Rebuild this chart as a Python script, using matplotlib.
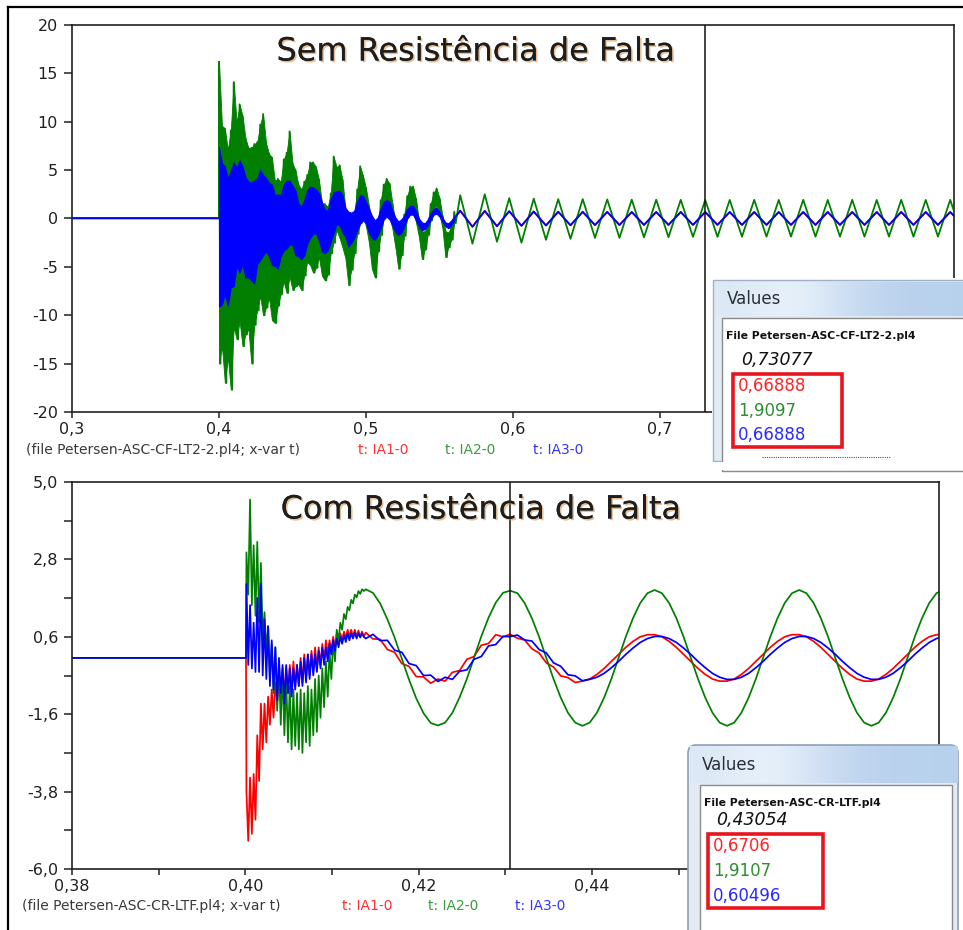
import numpy as np
import matplotlib
matplotlib.use("Agg")
import matplotlib.pyplot as plt
import matplotlib.patheffects as pe
from matplotlib.patches import Rectangle, FancyBboxPatch

plt.rcParams["font.family"] = ["DejaVu Sans"]

PERIOD = 1 / 60  # 60 Hz system

# ---------------------------------------------------------------------------
# Upper plot: "Sem Resistência de Falta" (file Petersen-ASC-CF-LT2-2.pl4)
# ---------------------------------------------------------------------------
top_xlim = (0.3, 0.9)
# the 0,8 label sits under the "Values" window in the screenshot
top_xticks = [0.3, 0.4, 0.5, 0.6, 0.7]
top_xticklabels = ["0,3", "0,4", "0,5", "0,6", "0,7"]
top_yticks = [20, 15, 10, 5, 0, -5, -10, -15, -20]
top_yticklabels = ["20", "15", "10", "5", "0", "-5", "-10", "-15", "-20"]

top_fault_t = 0.400
top_env_step = 0.002  # envelope read every 2 ms during the transient

# IA2-0 (green) max / min inside each 2 ms slot, 0.400 .. 0.560 s
top_green_hi = [16.2, 9.6, 9.3, 7.1, 9.1, 14.1, 9.9, 11.8, 10.6, 8.3,
                7.3, 7.3, 7.7, 7.9, 9.7, 10.8, 7.8, 6.7, 6.3, 3.9,
                4.1, 3.8, 6.1, 6.8, 9.0, 5.7, 5.0, 3.5, 3.0, 3.8,
                4.5, 5.8, 5.8, 5.3, 4.0, 1.6, 1.5, 1.2, 2.6, 6.4,
                5.3, 5.5, 4.0, 1.0, -0.2, -0.3, 0.5, 3.0, 5.4, 4.4,
                3.1, 1.3, -0.3, -1.4, -0.6, 1.9, 3.5, 4.1, 3.6, 1.5,
                -0.4, -1.4, -0.8, 0.4, 2.3, 3.3, 3.3, 2.0, -0.2, -1.3,
                -1.4, -0.4, 1.5, 2.7, 3.1, 2.1, 0.3, -1.3, -1.5, -0.8, 0.7]
top_green_lo = [-15.0, -13.2, -17.0, -14.3, -17.7, -11.2, -12.5, -10.6, -13.2, -12.0,
                -11.4, -15.0, -11.0, -9.5, -8.0, -10.0, -9.2, -8.2, -10.5, -10.8,
                -9.0, -7.8, -6.5, -7.7, -6.0, -7.4, -7.0, -6.8, -7.4, -5.9,
                -4.5, -4.8, -5.6, -5.1, -4.0, -5.9, -6.4, -5.8, -3.6, -2.5,
                -1.2, -2.0, -3.0, -4.1, -6.9, -5.3, -3.6, -1.6, -0.5, 0.2,
                -0.8, -2.5, -5.2, -6.1, -3.4, -1.7, 0.0, 0.9, 0.2, -1.1,
                -3.0, -5.2, -3.8, -1.8, 0.1, 1.1, 1.0, -0.4, -1.9, -4.2,
                -3.2, -1.7, -0.2, 1.0, 1.3, 0.4, -1.0, -4.0, -3.0, -2.2, -0.5]

# IA3-0 (blue) band, same slots
top_blue_hi = [7.4, 5.7, 5.4, 4.1, 4.9, 5.8, 5.2, 6.0, 5.4, 4.3,
               3.8, 3.7, 3.9, 4.1, 5.0, 4.5, 4.2, 3.7, 3.5, 2.4,
               2.5, 2.4, 3.5, 3.9, 3.9, 3.4, 2.9, 1.6, 1.2, 1.9,
               2.9, 3.3, 3.2, 3.0, 2.6, 1.7, 0.9, 0.8, 2.0, 2.7,
               2.8, 2.9, 2.4, 1.1, 0.7, 0.6, 0.8, 1.8, 2.4, 2.3,
               1.7, 1.0, 0.3, -0.2, 0.1, 1.0, 1.7, 1.9, 1.7, 0.8,
               0.1, -0.3, -0.1, 0.3, 1.0, 1.3, 1.3, 0.8, 0.0, -0.4,
               -0.5, -0.1, 0.5, 1.0, 1.1, 0.7, 0.1, -0.4, -0.5, -0.2, 0.2]
top_blue_lo = [-9.1, -8.9, -7.8, -9.0, -7.1, -7.0, -4.9, -5.6, -4.7, -6.1,
               -6.1, -6.4, -6.7, -4.7, -4.3, -3.8, -3.4, -3.9, -4.8, -4.9,
               -5.2, -3.9, -3.3, -3.1, -2.7, -2.7, -3.8, -3.9, -4.2, -3.8,
               -2.6, -2.0, -1.6, -1.5, -2.3, -3.4, -3.6, -3.3, -2.4, -1.5,
               -0.6, -0.7, -1.4, -1.9, -2.9, -2.5, -2.0, -1.2, -0.5, -0.2,
               -0.5, -1.5, -2.0, -2.2, -1.7, -1.0, -0.1, 0.2, -0.1, -0.7,
               -1.4, -1.7, -1.5, -0.8, 0.0, 0.4, 0.4, -0.2, -0.8, -1.2,
               -1.1, -0.7, -0.1, 0.4, 0.5, 0.2, -0.3, -0.8, -1.0, -0.7, -0.2]

# steady 60 Hz part: one peak and one trough per cycle, first peak at 0.5641 s
top_first_peak = 0.5641
top_green_peaks = [2.4, 2.5, 2.1, 2.05, 2.0, 2.0, 1.97, 1.95, 1.94, 1.93, 1.92,
                   1.92, 1.93, 1.92, 1.93, 1.92, 1.93, 1.92, 1.93, 1.92, 1.93]
top_green_troughs = [-2.6, -2.4, -2.5, -2.2, -2.1, -2.0, -2.0, -1.95, -1.93, -1.9, -1.9,
                     -1.88, -1.88, -1.87, -1.88, -1.87, -1.88, -1.87, -1.88, -1.87, -1.88]
top_blue_peaks = [0.8, 0.78, 0.75, 0.72, 0.7, 0.69, 0.68, 0.67, 0.67, 0.67, 0.67,
                  0.67, 0.67, 0.67, 0.67, 0.67, 0.67, 0.67, 0.67, 0.67, 0.67]
top_blue_troughs = [-0.85, -0.8, -0.75, -0.72, -0.7, -0.68, -0.67, -0.66, -0.66, -0.66, -0.66,
                    -0.66, -0.66, -0.66, -0.66, -0.66, -0.66, -0.66, -0.66, -0.66, -0.66]
top_red_peaks = top_blue_peaks  # IA1-0 equals IA3-0 here (0,66888 both)
top_red_troughs = top_blue_troughs

top_cursor = 0.73077
top_values = ["0,73077", "0,66888", "1,9097", "0,66888"]

# ---------------------------------------------------------------------------
# Lower plot: "Com Resistência de Falta" (file Petersen-ASC-CR-LTF.pl4)
# ---------------------------------------------------------------------------
bot_xlim = (0.38, 0.48)
# the 0,46 label sits under the "Values" window in the screenshot
bot_xticks = [0.38, 0.40, 0.42, 0.44]
bot_xticklabels = ["0,38", "0,40", "0,42", "0,44"]
bot_xminor = [0.39, 0.41, 0.43, 0.45]
bot_yticks = [5.0, 2.8, 0.6, -1.6, -3.8, -6.0]
bot_yticklabels = ["5,0", "2,8", "0,6", "-1,6", "-3,8", "-6,0"]
bot_yminor = [3.9, 1.7, -0.5, -2.7, -4.9]

bot_fault_t = 0.40012
bot_tr_step = PERIOD / 80  # transient read about every 0.21 ms

bot_red_tr = [-3.8, -5.2, -3.4, -5.0, -3.3, -4.6, -2.2, -3.5, -1.3, -2.6,
              -1.3, -2.4, -1.1, -1.9, -0.9, -1.7, -0.7, -1.3, -0.6, -1.2,
              -0.4, -1.0, -0.3, -1.0, -0.2, -0.9, -0.1, -0.8, -0.2, -0.8,
              0.0, -0.7, 0.1, -0.6, 0.1, -0.5, 0.2, -0.4, 0.3, -0.3,
              0.3, -0.2, 0.4, -0.1, 0.5, 0.1, 0.5, 0.2, 0.6, 0.3,
              0.7, 0.4, 0.7, 0.5, 0.75, 0.55, 0.8, 0.6, 0.8, 0.6,
              0.8, 0.6, 0.78, 0.6, 0.75, 0.6]
bot_green_tr = [3.0, 1.8, 4.5, 1.5, 3.2, 1.2, 3.3, 1.0, 2.7, 0.5,
                1.3, 0.2, 0.9, -0.6, 0.4, -1.0, 0.3, -1.5, -0.1, -1.9,
                -0.3, -2.2, -0.6, -2.4, -0.8, -2.6, -0.9, -2.5, -1.0, -2.6,
                -0.9, -2.7, -1.0, -2.4, -0.8, -2.5, -0.9, -2.2, -0.6, -2.1,
                -0.5, -1.7, -0.3, -1.4, -0.1, -1.1, 0.2, -0.6, 0.5, -0.1,
                0.8, 0.5, 1.0, 0.8, 1.25, 1.1, 1.45, 1.35, 1.65, 1.55,
                1.8, 1.72, 1.9, 1.82, 1.95, 1.9]
bot_blue_tr = [2.1, -0.2, 1.5, -0.3, 1.0, -0.4, 1.7, -0.4, 2.1, -0.5,
               1.1, -0.6, 0.9, -0.8, 0.5, -0.9, 0.3, -1.2, 0.0, -1.0,
               -0.2, -1.3, -0.2, -1.0, -0.3, -1.1, -0.3, -0.9, -0.2, -0.8,
               -0.1, -0.8, 0.0, -0.7, 0.1, -0.6, 0.1, -0.5, 0.1, -0.4,
               0.2, -0.3, 0.3, -0.2, 0.3, -0.1, 0.4, 0.1, 0.5, 0.2,
               0.55, 0.3, 0.6, 0.4, 0.65, 0.45, 0.7, 0.5, 0.7, 0.55,
               0.72, 0.55, 0.7, 0.58, 0.7, 0.6]

# steady part read every 1/20 cycle, starting one cycle before the cursor
bot_cursor = 0.43054
bot_st_start = bot_cursor - PERIOD
bot_st_step = PERIOD / 20
bot_red_st = [0.72, 0.54, 0.53, 0.24, 0.16, -0.16, -0.24, -0.53, -0.54, -0.72,
              -0.60, -0.66, -0.41, -0.36, -0.04, 0.04, 0.36, 0.41, 0.66, 0.60,
              0.671, 0.56, 0.51, 0.26, 0.14, -0.14, -0.26, -0.51, -0.56, -0.70,
              -0.66, -0.60, -0.47, -0.30, -0.10, 0.10, 0.30, 0.47, 0.60, 0.66,
              0.66, 0.60, 0.47, 0.30, 0.10, -0.10, -0.30, -0.47, -0.60, -0.66,
              -0.66, -0.60, -0.47, -0.30, -0.10, 0.10, 0.30, 0.47, 0.60, 0.66,
              0.66, 0.60, 0.47, 0.30, 0.10, -0.10, -0.30, -0.47, -0.60, -0.66,
              -0.66, -0.60, -0.47, -0.30, -0.10, 0.10, 0.30, 0.47, 0.60, 0.66,
              0.66]
bot_green_st = [1.95, 1.85, 1.55, 1.10, 0.58, -0.02, -0.62, -1.15, -1.57, -1.85,
                -1.92, -1.84, -1.56, -1.12, -0.60, 0.01, 0.61, 1.14, 1.57, 1.85,
                1.911, 1.84, 1.56, 1.13, 0.60, 0.0, -0.60, -1.13, -1.56, -1.84,
                -1.93, -1.84, -1.56, -1.13, -0.60, 0.0, 0.60, 1.13, 1.56, 1.84,
                1.93, 1.84, 1.56, 1.13, 0.60, 0.0, -0.60, -1.13, -1.56, -1.84,
                -1.93, -1.84, -1.56, -1.13, -0.60, 0.0, 0.60, 1.13, 1.56, 1.84,
                1.93, 1.84, 1.56, 1.13, 0.60, 0.0, -0.60, -1.13, -1.56, -1.84,
                -1.93, -1.84, -1.56, -1.13, -0.60, 0.0, 0.60, 1.13, 1.56, 1.84,
                1.93]
bot_blue_st = [0.55, 0.67, 0.49, 0.50, 0.22, 0.16, -0.16, -0.22, -0.50, -0.49,
               -0.67, -0.55, -0.61, -0.38, -0.34, -0.04, 0.04, 0.34, 0.38, 0.61,
               0.605, 0.65, 0.51, 0.48, 0.24, 0.14, -0.14, -0.24, -0.48, -0.51,
               -0.65, -0.61, -0.55, -0.44, -0.28, -0.10, 0.10, 0.28, 0.44, 0.55,
               0.61, 0.61, 0.55, 0.44, 0.28, 0.10, -0.10, -0.28, -0.44, -0.55,
               -0.61, -0.61, -0.55, -0.44, -0.28, -0.10, 0.10, 0.28, 0.44, 0.55,
               0.61, 0.61, 0.55, 0.44, 0.28, 0.10, -0.10, -0.28, -0.44, -0.55,
               -0.61, -0.61, -0.55, -0.44, -0.28, -0.10, 0.10, 0.28, 0.44, 0.55,
               0.61]
bot_values = ["0,43054", "0,6706", "1,9107", "0,60496"]

RED, GREEN, BLUE = "#ff0000", "#007f00", "#0000ff"
TXT = "#1e1e1e"


def steady_line(first_peak, peaks, troughs):
    """Peak/trough points of the steady 60 Hz part, in time order."""
    t_pk = first_peak + np.arange(len(peaks)) * PERIOD
    t = np.column_stack([t_pk, t_pk + PERIOD / 2]).ravel()
    v = np.column_stack([peaks, troughs]).ravel()
    return t, v


def style_axes(ax, xlim, ylim, xticks, xlabels, yticks, ylabels):
    ax.set_xlim(*xlim)
    ax.set_ylim(*ylim)
    ax.set_xticks(xticks, xlabels)
    ax.set_yticks(yticks, ylabels)
    for s in ax.spines.values():
        s.set_linewidth(1.2)
        s.set_color("#202020")
    ax.tick_params(axis="y", which="both", direction="out", length=6,
                   width=1.1, pad=4, labelsize=11.5, colors="#202020")
    ax.tick_params(axis="x", which="both", direction="out", length=4,
                   width=1.1, pad=3, labelsize=11.5, colors="#202020")


fig = plt.figure(figsize=(9.63, 9.30), dpi=100)
W, H = 963, 930

# ---------------- upper plot ----------------
ax1 = fig.add_axes([72 / W, 1 - 412 / H, 882 / W, 387 / H])
style_axes(ax1, top_xlim, (-20, 20), top_xticks, top_xticklabels,
           top_yticks, top_yticklabels)

t_env = top_fault_t + np.arange(len(top_green_hi)) * top_env_step
zig_t = np.column_stack([t_env, t_env + top_env_step / 2]).ravel()
zig_v = np.column_stack([top_green_hi, top_green_lo]).ravel()
g_st_t, g_st_v = steady_line(top_first_peak, top_green_peaks, top_green_troughs)
b_st_t, b_st_v = steady_line(top_first_peak, top_blue_peaks, top_blue_troughs)
r_st_t, r_st_v = steady_line(top_first_peak, top_red_peaks, top_red_troughs)

blue_mid_end = (top_blue_hi[-1] + top_blue_lo[-1]) / 2
ax1.plot(np.r_[t_env[-1], r_st_t], np.r_[blue_mid_end, r_st_v], color=RED, lw=1.3, zorder=2)
# green: dense band plus the individual spikes
ax1.fill_between(t_env, top_green_lo, top_green_hi, color=GREEN, lw=0.6, zorder=3)
ax1.plot(np.r_[top_xlim[0], top_fault_t, zig_t, g_st_t],
         np.r_[0, 0, zig_v, g_st_v], color=GREEN, lw=1.3, zorder=3)
# blue band on top
ax1.fill_between(t_env, top_blue_lo, top_blue_hi, color=BLUE, lw=0.8, zorder=4)
ax1.plot(np.r_[top_xlim[0], top_fault_t], [0, 0], color=BLUE, lw=1.3, zorder=4)
ax1.plot(np.r_[t_env[-1], b_st_t], np.r_[blue_mid_end, b_st_v], color=BLUE, lw=1.3, zorder=4)
ax1.axvline(top_cursor, color="#111111", lw=1.1, zorder=5)

# ---------------- lower plot ----------------
ax2 = fig.add_axes([72 / W, 1 - 869 / H, 867 / W, 387 / H])
style_axes(ax2, bot_xlim, (-6.0, 5.0), bot_xticks, bot_xticklabels,
           bot_yticks, bot_yticklabels)
ax2.set_xticks(bot_xminor, minor=True)
ax2.set_yticks(bot_yminor, minor=True)

t_tr = bot_fault_t + np.arange(len(bot_red_tr)) * bot_tr_step
t_st = bot_st_start + np.arange(len(bot_red_st)) * bot_st_step
for tr, st, col in [(bot_red_tr, bot_red_st, RED),
                    (bot_green_tr, bot_green_st, GREEN),
                    (bot_blue_tr, bot_blue_st, BLUE)]:
    ax2.plot(np.r_[bot_xlim[0], bot_fault_t - 0.00005, t_tr, t_st],
             np.r_[0, 0, tr, st], color=col, lw=1.25)
ax2.axvline(bot_cursor, color="#111111", lw=1.1)

# ---------------- overlay: titles, captions, "Values" windows ----------------
ov = fig.add_axes([0, 0, 1, 1], zorder=10)
ov.set_xlim(0, W)
ov.set_ylim(H, 0)
ov.axis("off")

shadow = [pe.withSimplePatchShadow(offset=(1.2, -1.2), shadow_rgbFace="#d08a40", alpha=0.55),
          pe.Normal()]
ov.text(476, 52, "Sem Resistência de Falta", fontsize=23, color=TXT,
        ha="center", va="center", path_effects=shadow)
ov.text(481, 510, "Com Resistência de Falta", fontsize=23, color=TXT,
        ha="center", va="center", path_effects=shadow)

captions = [
    (26, 450, "(file Petersen-ASC-CF-LT2-2.pl4; x-var t)", (358, 445, 533)),
    (22, 906, "(file Petersen-ASC-CR-LTF.pl4; x-var t)", (342, 428, 515)),
]
for x0, y0, txt, (xr, xg, xb) in captions:
    ov.text(x0, y0, txt, fontsize=10, color="#3a3a3a", va="center")
    ov.text(xr, y0, "t: IA1-0", fontsize=10, color="#ff3030", va="center")
    ov.text(xg, y0, "t: IA2-0", fontsize=10, color="#3c9a3c", va="center")
    ov.text(xb, y0, "t: IA3-0", fontsize=10, color="#3535ff", va="center")

bar = np.array([[0.86, 0.91, 0.96], [0.93, 0.96, 0.99], [0.80, 0.87, 0.95],
                [0.73, 0.82, 0.93], [0.72, 0.82, 0.93]])[None, :, :]


def values_window(x0, y0, x1, y1, bar_h, panel_dx, file_txt, vals, box, rounded):
    if rounded:
        frame = FancyBboxPatch((x0, y0), x1 - x0, y1 - y0 + 20,
                               boxstyle="round,pad=0,rounding_size=8",
                               fc="#e2eaf3", ec="#8f9fb2", lw=1.2)
    else:
        frame = Rectangle((x0, y0), x1 - x0, y1 - y0, fc="#e2eaf3", ec="#9fb0c4", lw=1)
    ov.add_patch(frame)
    ov.imshow(bar, extent=(x0 + 2, x1, y0 + bar_h, y0 + 2), aspect="auto",
              interpolation="bicubic", zorder=2)
    px0, py0 = x0 + panel_dx, y0 + bar_h + 2
    ov.add_patch(Rectangle((px0, py0), x1 - px0 - 6, y1 - py0 + 10,
                           fc="white", ec="#8a8a8a", lw=1, zorder=3))
    ov.text(x0 + 14, y0 + bar_h / 2 + 1, "Values", fontsize=12, color="#2a2f38",
            va="center", zorder=4)
    ov.text(px0 + 4, py0 + 18, file_txt, fontsize=7.8, weight="bold",
            color="#111111", va="center", zorder=4)
    bx0, by0, bx1, by1 = box
    ov.text(bx0 + 8, by0 - 14, vals[0], fontsize=12.5, style="italic",
            color="#111111", va="center", zorder=4)
    ov.add_patch(Rectangle((bx0, by0), bx1 - bx0, by1 - by0, fill=False,
                           ec="#e8141e", lw=2.6, zorder=5))
    step = (by1 - by0) / 3
    for i, (v, c) in enumerate(zip(vals[1:], ["#ff2525", "#2f8f2f", "#2a2aff"])):
        ov.text(bx0 + 5, by0 + step * (i + 0.5), v, fontsize=12, color=c,
                va="center", zorder=4)


ov.add_patch(Rectangle((712, 278), 260, 190, fc="white", ec="none"))
values_window(713, 280, 975, 461, 36, 9, "File Petersen-ASC-CF-LT2-2.pl4",
              top_values, (733, 374, 842, 447), rounded=False)
ov.plot([762, 890], [457, 457], color="#555555", lw=0.8, ls=(0, (1, 1)), zorder=6)
ov.add_patch(Rectangle((700, 462), 263, 8, fc="white", ec="none", zorder=6))

values_window(688, 745, 958, 930, 38, 12, "File Petersen-ASC-CR-LTF.pl4",
              bot_values, (708, 834, 823, 908), rounded=True)

ov.plot([8, 8], [H, 7], color="black", lw=1.6)
ov.plot([8, W], [7, 7], color="black", lw=1.6)
ov.set_xlim(0, W)
ov.set_ylim(H, 0)

fig.savefig("out.png", dpi=100)
